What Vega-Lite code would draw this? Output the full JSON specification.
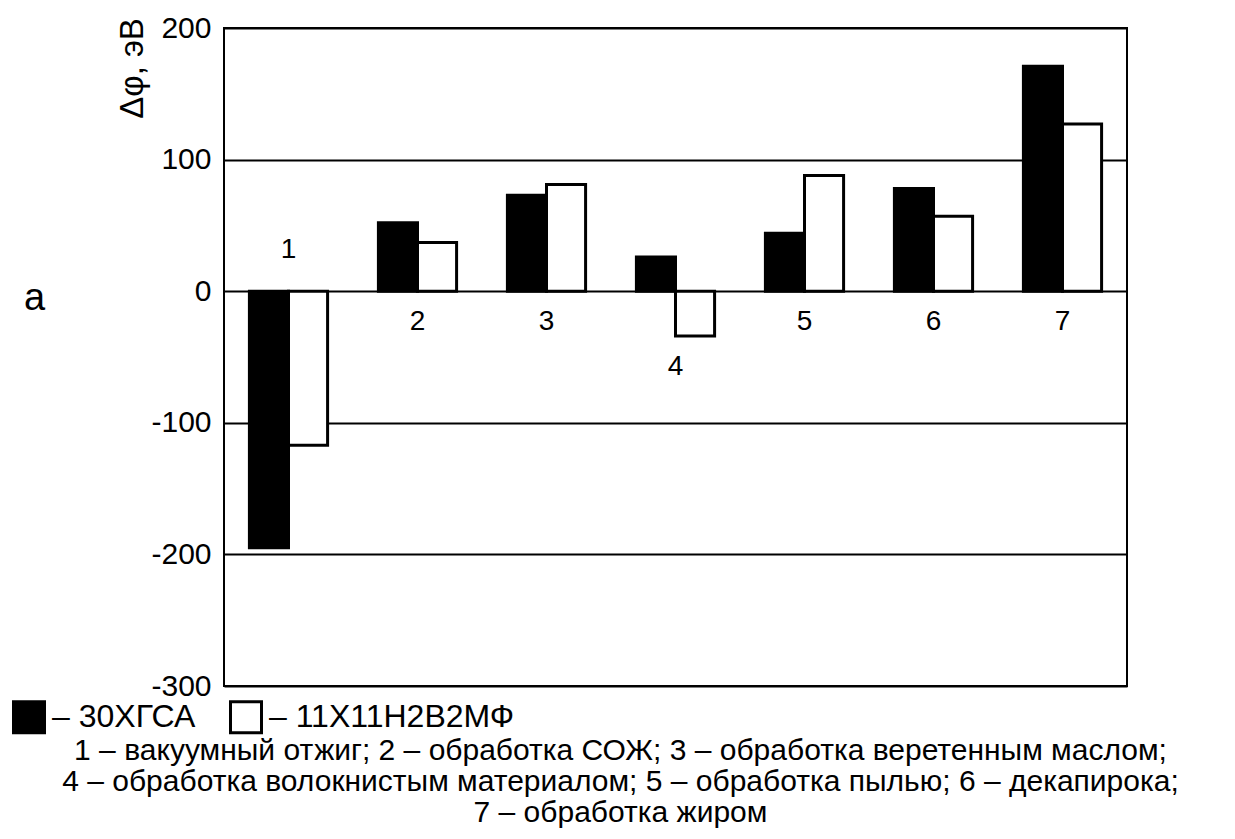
{
  "$schema": "https://vega.github.io/schema/vega-lite/v6.json",
  "width": 903,
  "height": 658,
  "autosize": {"type": "none"},
  "padding": {"left": 224, "top": 28, "right": 108, "bottom": 153},
  "background": "white",
  "config": {
    "font": "Liberation Sans",
    "view": {"stroke": "black", "strokeWidth": 2}
  },
  "title": {
    "text": [
      "1 – вакуумный отжиг; 2 – обработка СОЖ; 3 – обработка веретенным маслом;",
      "4 – обработка волокнистым материалом; 5 – обработка пылью; 6 – декапирока;",
      "7 – обработка жиром"
    ],
    "orient": "bottom",
    "anchor": "middle",
    "frame": "group",
    "dx": -55,
    "offset": -3,
    "fontSize": 30,
    "fontWeight": "normal",
    "lineHeight": 31,
    "color": "black",
    "font": "Liberation Sans"
  },
  "data": {
    "values": [
      {"group": "1", "series": "30ХГСА", "value": -195},
      {"group": "1", "series": "11Х11Н2В2МФ", "value": -117},
      {"group": "2", "series": "30ХГСА", "value": 52},
      {"group": "2", "series": "11Х11Н2В2МФ", "value": 37},
      {"group": "3", "series": "30ХГСА", "value": 73},
      {"group": "3", "series": "11Х11Н2В2МФ", "value": 81},
      {"group": "4", "series": "30ХГСА", "value": 26},
      {"group": "4", "series": "11Х11Н2В2МФ", "value": -34},
      {"group": "5", "series": "30ХГСА", "value": 44},
      {"group": "5", "series": "11Х11Н2В2МФ", "value": 88},
      {"group": "6", "series": "30ХГСА", "value": 78},
      {"group": "6", "series": "11Х11Н2В2МФ", "value": 57},
      {"group": "7", "series": "30ХГСА", "value": 171},
      {"group": "7", "series": "11Х11Н2В2МФ", "value": 127}
    ]
  },
  "encoding": {
    "x": {
      "field": "group",
      "type": "nominal",
      "sort": ["1", "2", "3", "4", "5", "6", "7"],
      "scale": {"paddingInner": 0, "paddingOuter": 0},
      "axis": {
        "title": "а",
        "labels": false,
        "ticks": false,
        "domain": false,
        "grid": false,
        "titleFontSize": 38,
        "titleFontWeight": "normal",
        "titleColor": "black",
        "titleX": -190,
        "titleY": -388,
        "titleAlign": "center",
        "titleBaseline": "middle"
      }
    }
  },
  "layer": [
    {
      "mark": {"type": "bar", "stroke": "black", "strokeWidth": 3},
      "encoding": {
        "xOffset": {
          "field": "series",
          "type": "nominal",
          "scale": {"domain": ["30ХГСА", "11Х11Н2В2МФ"], "paddingOuter": 0.65, "paddingInner": 0}
        },
        "y": {
          "field": "value",
          "type": "quantitative",
          "scale": {"domain": [-300, 200], "nice": false, "zero": false},
          "axis": {
            "title": "Δφ, эВ",
            "values": [-300, -200, -100, 0, 100, 200],
            "labelExpr": "replace(datum.label, '−', '-')",
            "grid": true,
            "gridColor": "black",
            "gridWidth": 2,
            "gridOpacity": 1,
            "domain": false,
            "ticks": false,
            "labelFontSize": 30,
            "labelColor": "black",
            "labelPadding": 13,
            "labelFlush": false,
            "labelOverlap": false,
            "labelBound": false,
            "titleFontSize": 33,
            "titleFontWeight": "normal",
            "titleColor": "black",
            "titleAngle": -90,
            "titleX": -92,
            "titleY": 40,
            "titleAlign": "center",
            "titleBaseline": "middle"
          }
        },
        "fill": {
          "field": "series",
          "type": "nominal",
          "scale": {"domain": ["30ХГСА", "11Х11Н2В2МФ"], "range": ["black", "white"]},
          "legend": {
            "orient": "none",
            "legendX": -212,
            "legendY": 672,
            "direction": "horizontal",
            "title": null,
            "symbolType": "square",
            "symbolSize": 961,
            "symbolStrokeColor": "black",
            "symbolStrokeWidth": 3,
            "symbolOpacity": 1,
            "labelFontSize": 32,
            "labelColor": "black",
            "labelExpr": "'– ' + datum.label",
            "labelOffset": 6,
            "columnPadding": 28,
            "labelLimit": 400
          }
        }
      }
    },
    {
      "transform": [
        {"aggregate": [{"op": "min", "field": "value", "as": "minv"}], "groupby": ["group"]},
        {"filter": "datum.minv >= 0"}
      ],
      "mark": {"type": "text", "fontSize": 28, "color": "black", "baseline": "middle", "dy": 31},
      "encoding": {
        "y": {"datum": 0, "type": "quantitative"},
        "text": {"field": "group"}
      }
    },
    {
      "transform": [
        {"aggregate": [{"op": "min", "field": "value", "as": "minv"}], "groupby": ["group"]},
        {"filter": "datum.minv < 0 && datum.minv > -150"}
      ],
      "mark": {"type": "text", "fontSize": 28, "color": "black", "baseline": "middle", "dy": 31},
      "encoding": {
        "y": {"field": "minv", "type": "quantitative"},
        "text": {"field": "group"}
      }
    },
    {
      "transform": [
        {"aggregate": [{"op": "min", "field": "value", "as": "minv"}], "groupby": ["group"]},
        {"filter": "datum.minv <= -150"}
      ],
      "mark": {"type": "text", "fontSize": 28, "color": "black", "baseline": "middle", "dy": -41},
      "encoding": {
        "y": {"datum": 0, "type": "quantitative"},
        "text": {"field": "group"}
      }
    }
  ]
}
